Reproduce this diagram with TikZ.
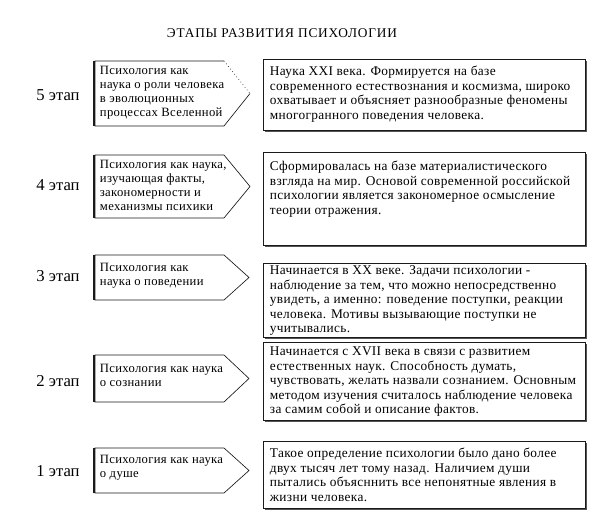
\documentclass[tikz,border=0pt]{standalone}
\usepackage{fontspec}
\setmainfont{Liberation Serif}
\usepackage{xcolor}
\definecolor{stageLine}{HTML}{1A1A1A}
\definecolor{stageShade}{HTML}{555555}
\usepackage{tikz}
\usetikzlibrary{positioning}
\tikzset{
  titletext/.style={font=\fontsize{10}{11}\selectfont\addfontfeature{LetterSpace=6}},
  stagelbl/.style={font=\fontsize{12.5}{14}\selectfont,inner sep=0pt},
  stagetxt/.style={anchor=north west,align=left,inner sep=2pt,
    font=\fontsize{9.5}{10.6}\selectfont\addfontfeature{LetterSpace=2.5}},
  desctxt/.style={anchor=north west,align=left,inner sep=2pt,
    font=\fontsize{10}{10.9}\selectfont\addfontfeature{LetterSpace=2.5}},
  pent/.style={draw=stageLine,line width=0.5pt,fill=white},
  pentshade/.style={draw=stageLine,line width=1.1pt},
  descbox/.style={draw=stageLine,line width=0.5pt,fill=white},
  boxshade/.style={fill=stageShade},
}

\begin{document}
\begin{tikzpicture}[x=0.75pt,y=-0.75pt]
\useasboundingbox (0,0) rectangle (600,520);

\node[titletext] (title) at (282,33) {ЭТАПЫ  РАЗВИТИЯ ПСИХОЛОГИИ};

% stage labels
\node[stagelbl] (l5) at (58,95)  {5 этап};
\node[stagelbl] (l4) at (58,185) {4 этап};
\node[stagelbl] (l3) at (58,276) {3 этап};
\node[stagelbl] (l2) at (58,381) {2 этап};
\node[stagelbl] (l1) at (58,471) {1 этап};

% arrows (stages)
\draw[pent] (224,61) -- (95,61) -- (95,126) -- (224,126) -- (250,93.5);
\draw[pent,dotted] (224,61) -- (250,93.5);
\draw[pentshade] (94,126) -- (94,61);
\draw[pent] (95,155) -- (224,155) -- (250,186.5) -- (224,218) -- (95,218) -- cycle;
\draw[pentshade] (94,218) -- (94,155);
\draw[pent] (95,255) -- (224,255) -- (249,277.5) -- (224,300) -- (95,300) -- cycle;
\draw[pentshade] (94,300) -- (94,255);
\draw[pent] (95,355) -- (224,355) -- (249,378.5) -- (224,402) -- (95,402) -- cycle;
\draw[pentshade] (94,402) -- (94,355);
\draw[pent] (95,448) -- (224,448) -- (249,470.5) -- (224,493) -- (95,493) -- cycle;
\draw[pentshade] (94,493) -- (94,448);

\node[stagetxt] (s5) at (97,63) {Психология как\\наука о роли человека\\в эволюционных\\процессах Вселенной};
\node[stagetxt] (s4) at (97,157) {Психология как наука,\\изучающая факты,\\закономерности и\\механизмы психики};
\node[stagetxt] (s3) at (97,260) {Психология как\\наука о поведении};
\node[stagetxt] (s2) at (97,361) {Психология как наука\\о сознании};
\node[stagetxt] (s1) at (97,452) {Психология как наука\\о душе};

% description boxes
\fill[boxshade] (265,61) rectangle (587,132);
\draw[descbox] (263,59) rectangle (585,130);
\fill[boxshade] (265,154) rectangle (587,247);
\draw[descbox] (263,152) rectangle (585,245);
\fill[boxshade] (265,265) rectangle (587,339);
\draw[descbox] (263,263) rectangle (585,337);
\fill[boxshade] (265,344) rectangle (587,422);
\draw[descbox] (263,342) rectangle (585,420);
\fill[boxshade] (265,443) rectangle (587,510);
\draw[descbox] (263,441) rectangle (585,508);

\node[desctxt] (d5) at (267,63) {Наука XXI века. Формируется на базе\\современного естествознания и космизма, широко\\охватывает и объясняет разнообразные феномены\\многогранного поведения человека.};
\node[desctxt] (d4) at (267,158) {Сформировалась на базе материалистического\\взгляда на мир. Основой современной российской\\психологии является закономерное осмысление\\теории отражения.};
\node[desctxt] (d3) at (267,263) {Начинается в XX веке. Задачи психологии -\\наблюдение за тем, что можно непосредственно\\увидеть, а именно: поведение поступки, реакции\\человека. Мотивы вызывающие поступки не\\учитывались.};
\node[desctxt] (d2) at (267,344) {Начинается с XVII века в связи с развитием\\естественных наук. Способность думать,\\чувствовать, желать назвали сознанием. Основным\\методом  изучения считалось наблюдение человека\\за самим собой и описание фактов.};
\node[desctxt] (d1) at (267,445) {Такое определение психологии было дано более\\двух тысяч лет тому назад. Наличием души\\пытались объясннить все непонятные явления в\\жизни человека.};

\end{tikzpicture}
\end{document}
